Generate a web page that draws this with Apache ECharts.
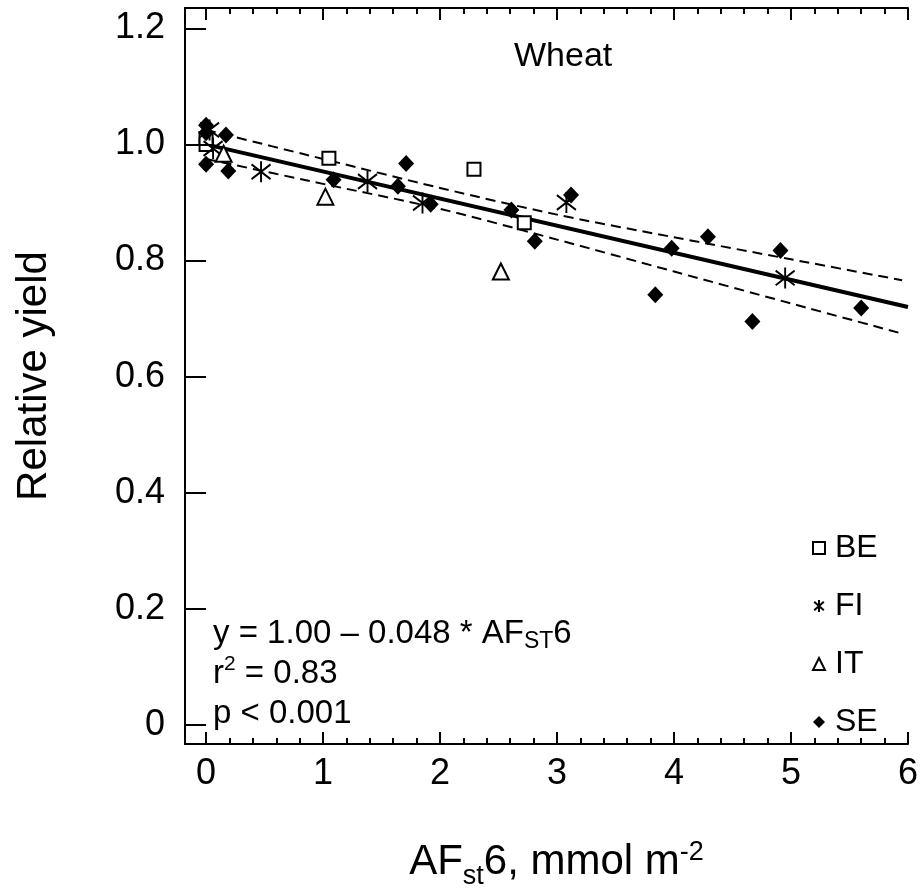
<!DOCTYPE html>
<html>
<head>
<meta charset="utf-8">
<script src="https://cdn.jsdelivr.net/npm/echarts@6/dist/echarts.min.js"></script>
<style>
  html, body { margin: 0; padding: 0; background: #fff; }
  #main { width: 921px; height: 896px; }
</style>
</head>
<body>
<div id="main"></div>
<script>
// country data
var beX = [0, 0, 1.05, 2.29, 2.72];
var beY = [1.00, 1.01, 0.976, 0.957, 0.865];
var fiX = [0.03, 0.06, 0.47, 1.38, 1.85, 3.08, 4.95];
var fiY = [1.025, 0.993, 0.953, 0.936, 0.899, 0.900, 0.770];
var itX = [0.15, 1.02, 2.52];
var itY = [0.984, 0.910, 0.781];
var seX = [0, 0, 0.17, 0, 0.19, 1.09, 1.71, 1.64, 1.92, 2.61, 3.12, 2.81, 3.98, 4.29, 3.84, 4.91, 4.67, 5.60];
var seY = [1.033, 1.02, 1.016, 0.966, 0.954, 0.939, 0.967, 0.928, 0.897, 0.887, 0.913, 0.833, 0.821, 0.841, 0.741, 0.817, 0.695, 0.718];

// regression and confidence band
var regX = [0, 6];
var regY = [1.0, 0.72];
var bandX = [0, 1, 2, 3, 4, 5, 5.95];
var upperY = [1.025, 0.975, 0.925, 0.879, 0.840, 0.802, 0.766];
var lowerY = [0.975, 0.932, 0.889, 0.836, 0.781, 0.726, 0.674];

var xMajor = [0, 1, 2, 3, 4, 5, 6];
var xMinor = [];
for (var i = 0; i < 6; i++) {
    for (var k = 1; k < 5; k++) xMinor.push(i + k * 0.2);
}
var yMajor = [0, 0.2, 0.4, 0.6, 0.8, 1.0, 1.2];

function pairs(xs, ys) {
    var out = [];
    for (var i = 0; i < xs.length; i++) out.push([xs[i], ys[i]]);
    return out;
}

var FONT = 'Liberation Sans';
var asterisk = 'path://M0,-10L0,10M-8,-7L8,7M-8,7L8,-7';

function xAx(pos, ticks, len, showLine, showLabel) {
    return {
        type: 'value', position: pos, min: -0.18, max: 6,
        axisLine: { show: showLine, onZero: false, lineStyle: { color: '#000', width: 2 } },
        axisTick: { show: true, inside: true, length: len, customValues: ticks, lineStyle: { color: '#000', width: 2 } },
        axisLabel: { show: showLabel, customValues: xMajor, margin: 12, fontSize: 36, color: '#000', fontFamily: FONT },
        splitLine: { show: false }
    };
}

var chart = echarts.init(document.getElementById('main'));
var option = {
    animation: false,
    backgroundColor: '#fff',
    grid: { left: 185, right: 11, top: 8, bottom: 152 },
    title: {
        text: 'Wheat', left: 514, top: 40, padding: 0,
        textStyle: { fontSize: 34, fontWeight: 'normal', color: '#000', fontFamily: FONT }
    },
    legend: {
        data: ['BE', 'FI', 'IT', 'SE'],
        orient: 'vertical', left: 812, top: 532, padding: 0,
        itemWidth: 12, itemHeight: 12, itemGap: 26,
        selectedMode: false,
        textStyle: { fontSize: 32, color: '#000', fontFamily: FONT, lineHeight: 30, padding: [0, 0, 0, 5] }
    },
    xAxis: [
        Object.assign(xAx('bottom', xMajor, 12, true, true), {
            name: '{n|AF}{sub|st}{n|6, mmol m}{sup|-2}',
            nameLocation: 'middle', nameGap: 90,
            nameTextStyle: {
                padding: [0, 0, 0, 20],
                rich: {
                    n: { fontSize: 42, fontFamily: FONT, color: '#000', lineHeight: 56, verticalAlign: 'middle' },
                    sub: { fontSize: 27, fontFamily: FONT, color: '#000', lineHeight: 27, verticalAlign: 'bottom' },
                    sup: { fontSize: 27, fontFamily: FONT, color: '#000', lineHeight: 27, verticalAlign: 'top', padding: [5, 0, 0, 0] }
                }
            }
        }),
        xAx('bottom', xMinor, 6, false, false),
        xAx('top', xMajor, 12, true, false),
        xAx('top', xMinor, 6, false, false)
    ],
    yAxis: [
        {
            type: 'value', position: 'left', min: -0.033, max: 1.235,
            name: 'Relative yield', nameLocation: 'middle', nameGap: 130, nameRotate: 90,
            nameTextStyle: { fontSize: 42, color: '#000', fontFamily: FONT },
            axisLine: { show: true, onZero: false, lineStyle: { color: '#000', width: 2 } },
            axisTick: { show: true, inside: true, length: 15, customValues: yMajor, lineStyle: { color: '#000', width: 2 } },
            axisLabel: {
                customValues: yMajor, margin: 20, fontSize: 36, color: '#000', fontFamily: FONT,
                formatter: function (v) { return v === 0 ? '0' : v.toFixed(1); }
            },
            splitLine: { show: false }
        },
        {
            type: 'value', position: 'right', min: -0.033, max: 1.235, offset: 11,
            axisLine: { show: false },
            axisTick: { show: true, inside: true, length: 7, customValues: yMajor, lineStyle: { color: '#000', width: 2 } },
            axisLabel: { show: false },
            splitLine: { show: false }
        }
    ],
    graphic: [
        {
            type: 'text', left: 213, top: 617,
            style: {
                text: '{n|y = 1.00 \u2013 0.048 * AF}{sub|ST}{n|6}\n{n|r}{sup|2}{n| = 0.83}\n{n|p < 0.001}',
                rich: {
                    n: { fontSize: 33, fontFamily: FONT, fill: '#000', lineHeight: 40, verticalAlign: 'middle' },
                    sub: { fontSize: 23, fontFamily: FONT, fill: '#000', lineHeight: 23, verticalAlign: 'bottom' },
                    sup: { fontSize: 21, fontFamily: FONT, fill: '#000', lineHeight: 21, verticalAlign: 'top' }
                }
            }
        }
    ],
    series: [
        {
            type: 'line', data: pairs(regX, regY), symbol: 'none', z: 1,
            lineStyle: { color: '#000', width: 4 }
        },
        {
            type: 'line', data: pairs(bandX, upperY), symbol: 'none', z: 1, smooth: 0.3,
            lineStyle: { color: '#000', width: 2, type: [10, 6] }
        },
        {
            type: 'line', data: pairs(bandX, lowerY), symbol: 'none', z: 1, smooth: 0.3,
            lineStyle: { color: '#000', width: 2, type: [10, 6] }
        },
        {
            name: 'BE', type: 'scatter', data: pairs(beX, beY), symbol: 'rect', symbolSize: 13, z: 3,
            itemStyle: { color: '#fff', borderColor: '#000', borderWidth: 2, opacity: 1 }
        },
        {
            name: 'FI', type: 'scatter', data: pairs(fiX, fiY), symbol: asterisk, symbolSize: [19, 21], z: 3,
            itemStyle: { color: 'rgba(0,0,0,0)', borderColor: '#000', borderWidth: 2, opacity: 1 }
        },
        {
            name: 'IT', type: 'scatter', data: pairs(itX, itY), symbol: 'triangle', symbolSize: [16, 16], z: 3,
            itemStyle: { color: '#fff', borderColor: '#000', borderWidth: 2, opacity: 1 }
        },
        {
            name: 'SE', type: 'scatter', data: pairs(seX, seY), symbol: 'diamond', symbolSize: [16, 17], z: 4,
            itemStyle: { color: '#000', opacity: 1 }
        }
    ]
};
chart.setOption(option);
</script>
</body>
</html>
